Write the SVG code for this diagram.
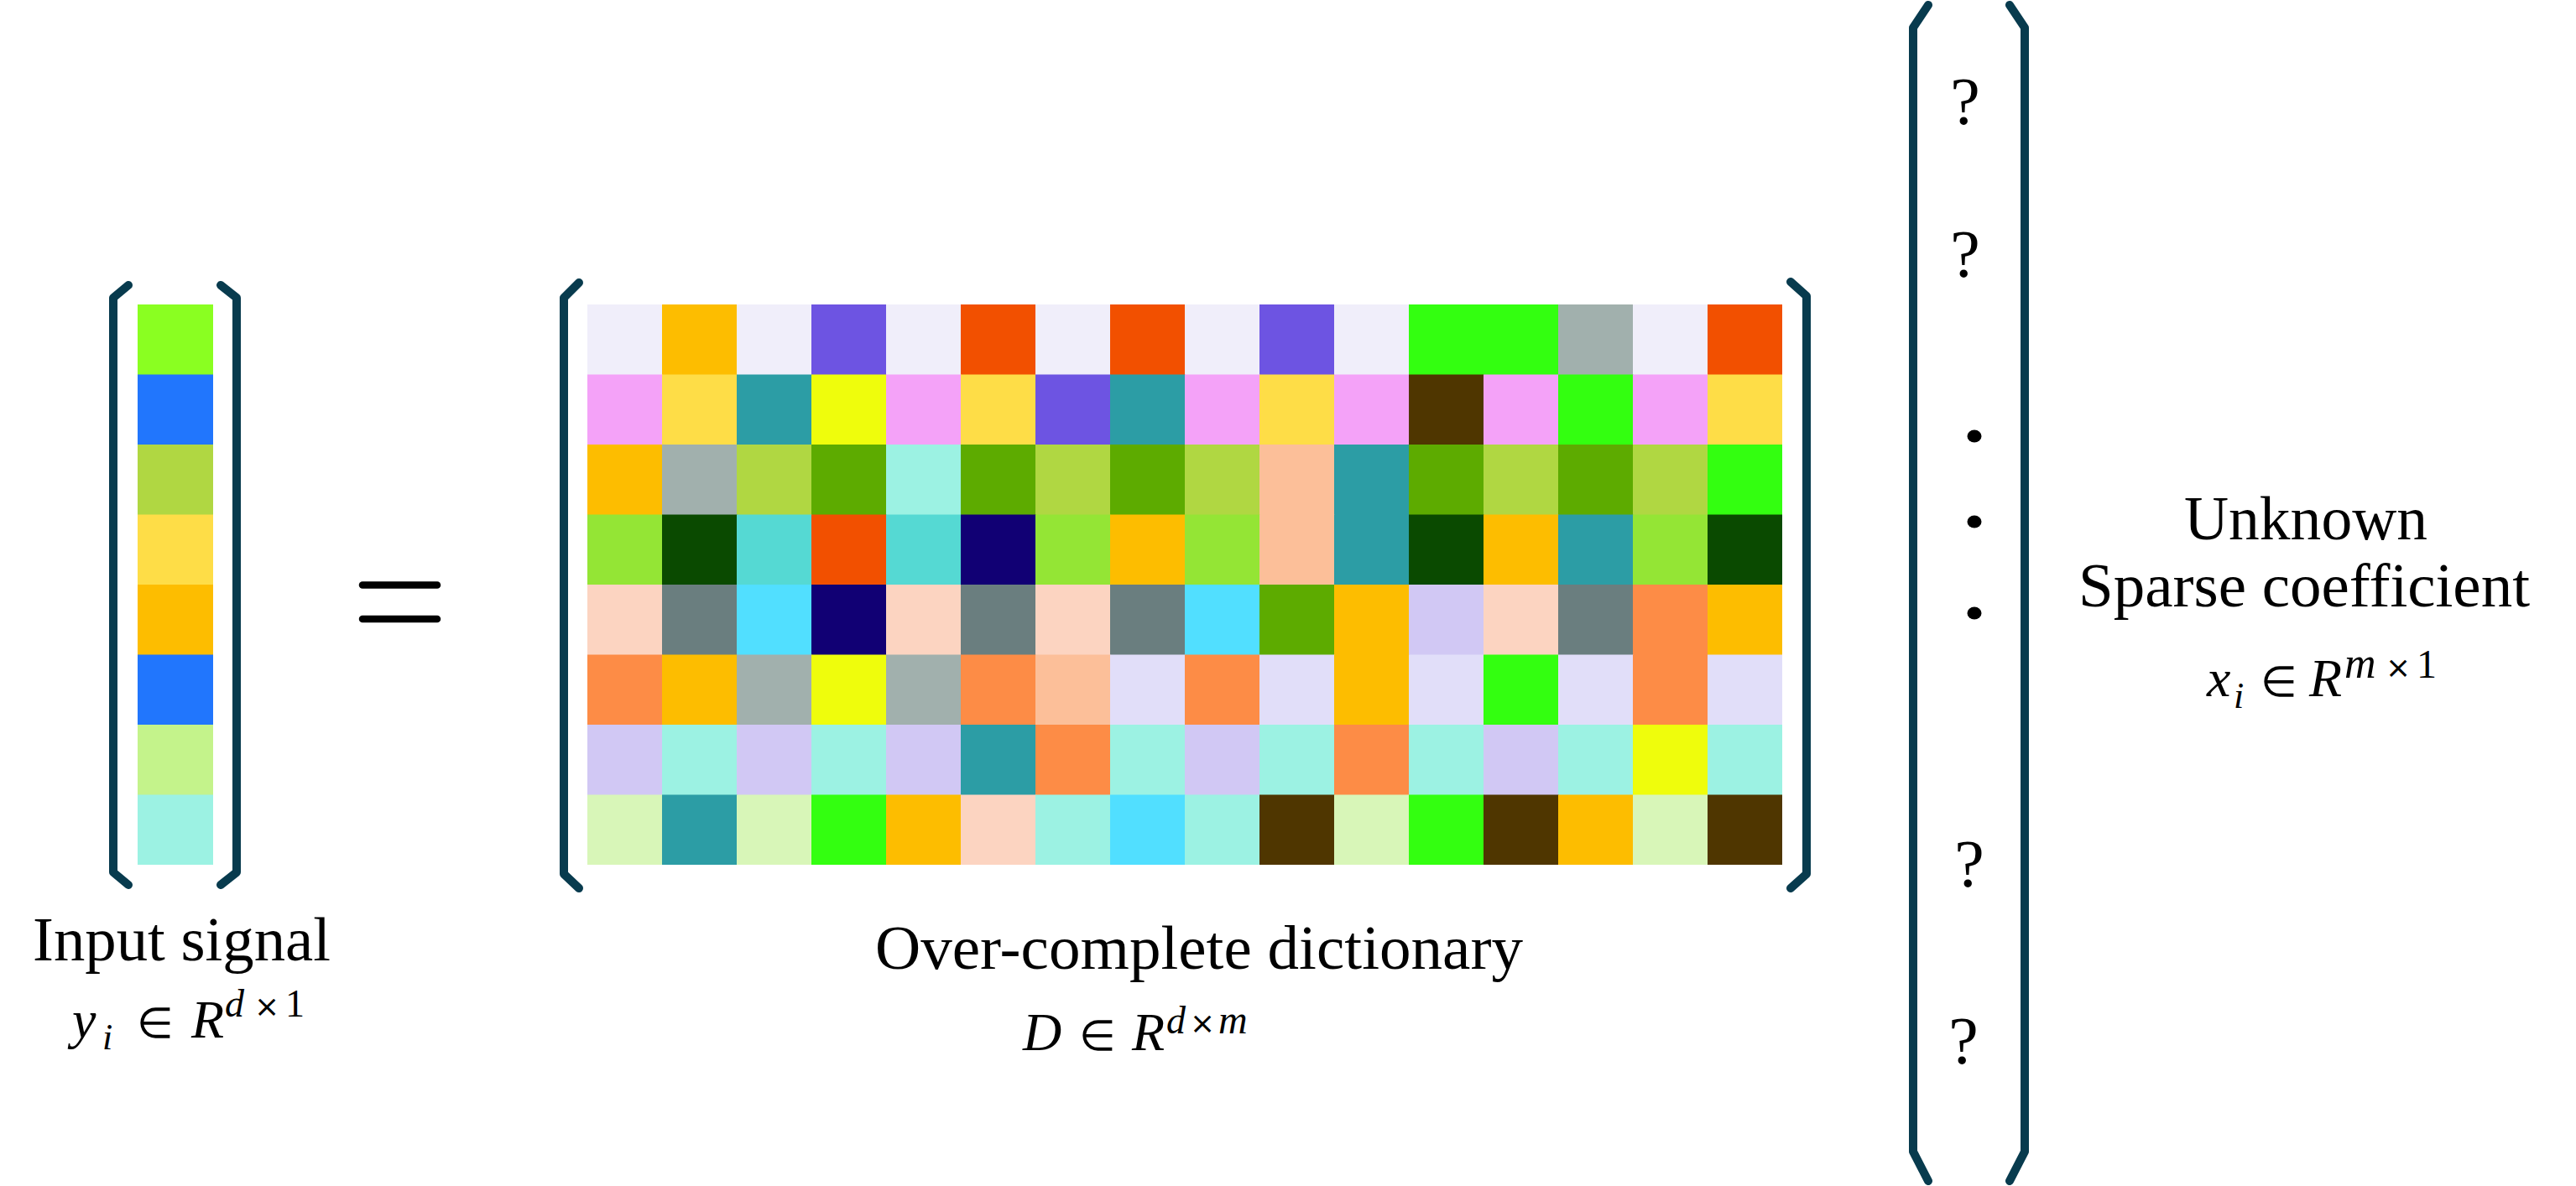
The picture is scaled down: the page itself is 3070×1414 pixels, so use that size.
<svg xmlns="http://www.w3.org/2000/svg" width="3070" height="1414" viewBox="0 0 3070 1414">
<style>
.br{fill:none;stroke:#083B4E;stroke-width:10;stroke-linecap:round;stroke-linejoin:round}
.eq{stroke:#000;stroke-width:8.5;stroke-linecap:round}
.lbl{font-family:"Liberation Serif","Times New Roman",serif;font-size:74px;fill:#000}
.q{font-family:"Liberation Serif","Times New Roman",serif;font-size:80px;fill:#000;text-anchor:middle}
.mi{font-family:"Liberation Serif","Times New Roman",serif;font-style:italic;fill:#000}
.mo{font-family:"DejaVu Sans",sans-serif;fill:#000;text-anchor:middle}
.mu{font-family:"Liberation Serif","Times New Roman",serif;fill:#000}
.lav{fill:#F0EEFA}.amb{fill:#FDBD00}.pur{fill:#6D54E2}.red{fill:#F25000}.pnk{fill:#F4A2F8}
.gld{fill:#FEDD47}.tea{fill:#2C9DA5}.yel{fill:#EFFD0C}.grn{fill:#33FF10}.brn{fill:#4F3600}
.gry{fill:#A1B0AD}.ylg{fill:#B0D742}.mgr{fill:#5DAB00}.aqu{fill:#9CF2E3}.pch{fill:#FCBF99}
.lgr{fill:#94E535}.dgr{fill:#0A4A00}.tqs{fill:#55D9D3}.nav{fill:#110074}.ppk{fill:#FCD4C1}
.slt{fill:#6A7E7F}.cyn{fill:#51DFFF}.org{fill:#FD8C46}.llv{fill:#E1DEF9}.lil{fill:#D1C8F4}
.plm{fill:#D8F6B8}.ilg{fill:#8AFF21}.iblu{fill:#2176FD}.ipg{fill:#C4F38B}
</style>

<g id="input-signal">
  <g id="input-column">
    <rect class="ilg" x="164" y="363" width="90" height="84"/>
    <rect class="iblu" x="164" y="446.5" width="90" height="84"/>
    <rect class="ylg" x="164" y="530" width="90" height="84"/>
    <rect class="gld" x="164" y="613.5" width="90" height="84"/>
    <rect class="amb" x="164" y="697" width="90" height="84"/>
    <rect class="iblu" x="164" y="780.5" width="90" height="84"/>
    <rect class="ipg" x="164" y="864" width="90" height="84"/>
    <rect class="aqu" x="164" y="947.5" width="90" height="83.5"/>
  </g>
  <path class="br" d="M153,340 L135,355 L135,1040 L153,1055"/>
  <path class="br" d="M263,340 L282,355 L282,1040 L263,1055"/>
  <text class="lbl" x="39" y="1145" textLength="355" lengthAdjust="spacingAndGlyphs">Input signal</text>
  <g id="input-math">
    <text class="mi" x="86" y="1237" font-size="64">y</text>
    <text class="mi" x="122" y="1251" font-size="44">i</text>
    <text class="mo" x="185" y="1237" font-size="50">∈</text>
    <text class="mi" x="228" y="1237" font-size="64">R</text>
    <text class="mi" x="268" y="1212" font-size="46">d</text>
    <text class="mo" x="318" y="1212" font-size="36">×</text>
    <text class="mu" x="340" y="1212" font-size="46">1</text>
  </g>
</g>

<g id="equals">
  <line class="eq" x1="432" y1="697.5" x2="521" y2="697.5"/>
  <line class="eq" x1="432" y1="738" x2="521" y2="738"/>
</g>

<g id="dictionary">
  <g id="grid">
    <g transform="translate(0,363)">
      <rect class="lav" x="700" width="89.5" height="84"/><rect class="amb" x="789" width="89.5" height="84"/><rect class="lav" x="878" width="89.5" height="84"/><rect class="pur" x="967" width="89.5" height="84"/><rect class="lav" x="1056" width="89.5" height="84"/><rect class="red" x="1145" width="89.5" height="84"/><rect class="lav" x="1234" width="89.5" height="84"/><rect class="red" x="1323" width="89.5" height="84"/><rect class="lav" x="1412" width="89.5" height="84"/><rect class="pur" x="1501" width="89.5" height="84"/><rect class="lav" x="1590" width="89.5" height="84"/><rect class="grn" x="1679" width="89.5" height="84"/><rect class="grn" x="1768" width="89.5" height="84"/><rect class="gry" x="1857" width="89.5" height="84"/><rect class="lav" x="1946" width="89.5" height="84"/><rect class="red" x="2035" width="89" height="84"/>
    </g>
    <g transform="translate(0,446.5)">
      <rect class="pnk" x="700" width="89.5" height="84"/><rect class="gld" x="789" width="89.5" height="84"/><rect class="tea" x="878" width="89.5" height="84"/><rect class="yel" x="967" width="89.5" height="84"/><rect class="pnk" x="1056" width="89.5" height="84"/><rect class="gld" x="1145" width="89.5" height="84"/><rect class="pur" x="1234" width="89.5" height="84"/><rect class="tea" x="1323" width="89.5" height="84"/><rect class="pnk" x="1412" width="89.5" height="84"/><rect class="gld" x="1501" width="89.5" height="84"/><rect class="pnk" x="1590" width="89.5" height="84"/><rect class="brn" x="1679" width="89.5" height="84"/><rect class="pnk" x="1768" width="89.5" height="84"/><rect class="grn" x="1857" width="89.5" height="84"/><rect class="pnk" x="1946" width="89.5" height="84"/><rect class="gld" x="2035" width="89" height="84"/>
    </g>
    <g transform="translate(0,530)">
      <rect class="amb" x="700" width="89.5" height="84"/><rect class="gry" x="789" width="89.5" height="84"/><rect class="ylg" x="878" width="89.5" height="84"/><rect class="mgr" x="967" width="89.5" height="84"/><rect class="aqu" x="1056" width="89.5" height="84"/><rect class="mgr" x="1145" width="89.5" height="84"/><rect class="ylg" x="1234" width="89.5" height="84"/><rect class="mgr" x="1323" width="89.5" height="84"/><rect class="ylg" x="1412" width="89.5" height="84"/><rect class="pch" x="1501" width="89.5" height="84"/><rect class="tea" x="1590" width="89.5" height="84"/><rect class="mgr" x="1679" width="89.5" height="84"/><rect class="ylg" x="1768" width="89.5" height="84"/><rect class="mgr" x="1857" width="89.5" height="84"/><rect class="ylg" x="1946" width="89.5" height="84"/><rect class="grn" x="2035" width="89" height="84"/>
    </g>
    <g transform="translate(0,613.5)">
      <rect class="lgr" x="700" width="89.5" height="84"/><rect class="dgr" x="789" width="89.5" height="84"/><rect class="tqs" x="878" width="89.5" height="84"/><rect class="red" x="967" width="89.5" height="84"/><rect class="tqs" x="1056" width="89.5" height="84"/><rect class="nav" x="1145" width="89.5" height="84"/><rect class="lgr" x="1234" width="89.5" height="84"/><rect class="amb" x="1323" width="89.5" height="84"/><rect class="lgr" x="1412" width="89.5" height="84"/><rect class="pch" x="1501" width="89.5" height="84"/><rect class="tea" x="1590" width="89.5" height="84"/><rect class="dgr" x="1679" width="89.5" height="84"/><rect class="amb" x="1768" width="89.5" height="84"/><rect class="tea" x="1857" width="89.5" height="84"/><rect class="lgr" x="1946" width="89.5" height="84"/><rect class="dgr" x="2035" width="89" height="84"/>
    </g>
    <g transform="translate(0,697)">
      <rect class="ppk" x="700" width="89.5" height="84"/><rect class="slt" x="789" width="89.5" height="84"/><rect class="cyn" x="878" width="89.5" height="84"/><rect class="nav" x="967" width="89.5" height="84"/><rect class="ppk" x="1056" width="89.5" height="84"/><rect class="slt" x="1145" width="89.5" height="84"/><rect class="ppk" x="1234" width="89.5" height="84"/><rect class="slt" x="1323" width="89.5" height="84"/><rect class="cyn" x="1412" width="89.5" height="84"/><rect class="mgr" x="1501" width="89.5" height="84"/><rect class="amb" x="1590" width="89.5" height="84"/><rect class="lil" x="1679" width="89.5" height="84"/><rect class="ppk" x="1768" width="89.5" height="84"/><rect class="slt" x="1857" width="89.5" height="84"/><rect class="org" x="1946" width="89.5" height="84"/><rect class="amb" x="2035" width="89" height="84"/>
    </g>
    <g transform="translate(0,780.5)">
      <rect class="org" x="700" width="89.5" height="84"/><rect class="amb" x="789" width="89.5" height="84"/><rect class="gry" x="878" width="89.5" height="84"/><rect class="yel" x="967" width="89.5" height="84"/><rect class="gry" x="1056" width="89.5" height="84"/><rect class="org" x="1145" width="89.5" height="84"/><rect class="pch" x="1234" width="89.5" height="84"/><rect class="llv" x="1323" width="89.5" height="84"/><rect class="org" x="1412" width="89.5" height="84"/><rect class="llv" x="1501" width="89.5" height="84"/><rect class="amb" x="1590" width="89.5" height="84"/><rect class="llv" x="1679" width="89.5" height="84"/><rect class="grn" x="1768" width="89.5" height="84"/><rect class="llv" x="1857" width="89.5" height="84"/><rect class="org" x="1946" width="89.5" height="84"/><rect class="llv" x="2035" width="89" height="84"/>
    </g>
    <g transform="translate(0,864)">
      <rect class="lil" x="700" width="89.5" height="84"/><rect class="aqu" x="789" width="89.5" height="84"/><rect class="lil" x="878" width="89.5" height="84"/><rect class="aqu" x="967" width="89.5" height="84"/><rect class="lil" x="1056" width="89.5" height="84"/><rect class="tea" x="1145" width="89.5" height="84"/><rect class="org" x="1234" width="89.5" height="84"/><rect class="aqu" x="1323" width="89.5" height="84"/><rect class="lil" x="1412" width="89.5" height="84"/><rect class="aqu" x="1501" width="89.5" height="84"/><rect class="org" x="1590" width="89.5" height="84"/><rect class="aqu" x="1679" width="89.5" height="84"/><rect class="lil" x="1768" width="89.5" height="84"/><rect class="aqu" x="1857" width="89.5" height="84"/><rect class="yel" x="1946" width="89.5" height="84"/><rect class="aqu" x="2035" width="89" height="84"/>
    </g>
    <g transform="translate(0,947.5)">
      <rect class="plm" x="700" width="89.5" height="83.5"/><rect class="tea" x="789" width="89.5" height="83.5"/><rect class="plm" x="878" width="89.5" height="83.5"/><rect class="grn" x="967" width="89.5" height="83.5"/><rect class="amb" x="1056" width="89.5" height="83.5"/><rect class="ppk" x="1145" width="89.5" height="83.5"/><rect class="aqu" x="1234" width="89.5" height="83.5"/><rect class="cyn" x="1323" width="89.5" height="83.5"/><rect class="aqu" x="1412" width="89.5" height="83.5"/><rect class="brn" x="1501" width="89.5" height="83.5"/><rect class="plm" x="1590" width="89.5" height="83.5"/><rect class="grn" x="1679" width="89.5" height="83.5"/><rect class="brn" x="1768" width="89.5" height="83.5"/><rect class="amb" x="1857" width="89.5" height="83.5"/><rect class="plm" x="1946" width="89.5" height="83.5"/><rect class="brn" x="2035" width="89" height="83.5"/>
    </g>
  </g>
  <path class="br" d="M690,337 L672,355 L672,1042 L690,1059"/>
  <path class="br" d="M2134,336 L2153,353 L2153,1042 L2134,1059"/>
  <text class="lbl" x="1043" y="1155" textLength="772" lengthAdjust="spacingAndGlyphs">Over-complete dictionary</text>
  <g id="dictionary-math">
    <text class="mi" x="1219" y="1252" font-size="64">D</text>
    <text class="mo" x="1308" y="1252" font-size="50">∈</text>
    <text class="mi" x="1349" y="1252" font-size="64">R</text>
    <text class="mi" x="1390" y="1232" font-size="46">d</text>
    <text class="mo" x="1433" y="1232" font-size="36">×</text>
    <text class="mi" x="1452" y="1232" font-size="48">m</text>
  </g>
</g>

<g id="sparse-coefficient">
  <path class="br" d="M2298,6 L2280,33 L2280,1373 L2298,1408"/>
  <path class="br" d="M2395,6 L2413,33 L2413,1373 L2395,1408"/>
  <text class="q" x="2342" y="148">?</text>
  <text class="q" x="2342" y="330">?</text>
  <ellipse cx="2353" cy="520" rx="8.5" ry="7.5" fill="#000"/>
  <ellipse cx="2353" cy="622" rx="8.5" ry="7.5" fill="#000"/>
  <ellipse cx="2353" cy="731" rx="8.5" ry="7.5" fill="#000"/>
  <text class="q" x="2347" y="1057">?</text>
  <text class="q" x="2340" y="1268">?</text>
  <text class="lbl" x="2603" y="643" textLength="290" lengthAdjust="spacingAndGlyphs">Unknown</text>
  <text class="lbl" x="2477" y="723" textLength="538" lengthAdjust="spacingAndGlyphs">Sparse coefficient</text>
  <g id="sparse-math">
    <text class="mi" x="2630" y="830" font-size="64">x</text>
    <text class="mi" x="2662" y="844" font-size="44">i</text>
    <text class="mo" x="2716" y="830" font-size="50">∈</text>
    <text class="mi" x="2752" y="830" font-size="64">R</text>
    <text class="mi" x="2794" y="808" font-size="52">m</text>
    <text class="mo" x="2858" y="808" font-size="36">×</text>
    <text class="mu" x="2880" y="808" font-size="48">1</text>
  </g>
</g>
</svg>
